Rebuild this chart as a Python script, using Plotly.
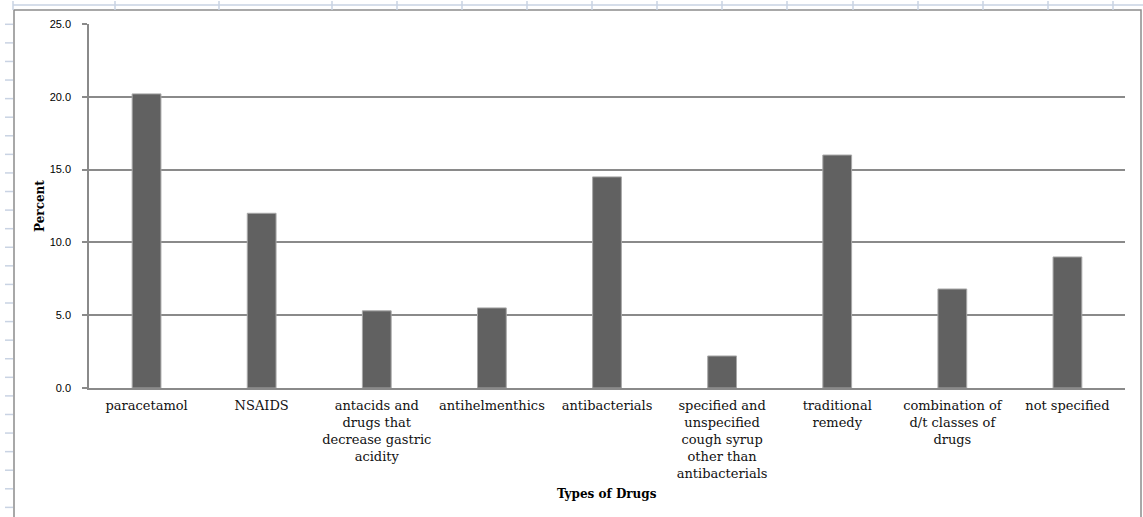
import plotly.graph_objects as go

categories = [
    "paracetamol",
    "NSAIDS",
    "antacids and<br>drugs that<br>decrease gastric<br>acidity",
    "antihelmenthics",
    "antibacterials",
    "specified and<br>unspecified<br>cough syrup<br>other than<br>antibacterials",
    "traditional<br>remedy",
    "combination of<br>d/t classes of<br>drugs",
    "not specified",
]
percent = [20.2, 12.0, 5.3, 5.5, 14.5, 2.2, 16.0, 6.8, 9.0]
y_ticks = [0, 5, 10, 15, 20, 25]
y_tick_labels = ["0.0", "5.0", "10.0", "15.0", "20.0", "25.0"]

W, H = 1143, 517
L, R, T, B = 89, 18, 24, 129
PW, PH = W - L - R, H - T - B


def px(x):
    return (x - L) / PW


def py(y):
    return (H - B - y) / PH


fig = go.Figure(
    go.Bar(
        x=categories,
        y=percent,
        marker=dict(color="#616161", line=dict(color="#a8a8a8", width=1)),
        width=0.25,
        hoverinfo="x+y",
    )
)

shapes = []
sheet = "#c9d3e3"
# spreadsheet remnants (decoration)
shapes.append(dict(type="line", xref="paper", yref="paper", x0=px(13), x1=px(1143), y0=py(5), y1=py(5),
                   line=dict(color=sheet, width=1.5)))
for xv in [13, 115, 219, 332, 397, 462, 527, 592, 657, 722, 787, 853, 918, 983, 1048, 1113]:
    shapes.append(dict(type="line", xref="paper", yref="paper", x0=px(xv), x1=px(xv), y0=py(1), y1=py(10),
                       line=dict(color=sheet, width=1.5)))
for k in range(27):
    yv = 24.3 + 18.58 * k
    shapes.append(dict(type="line", xref="paper", yref="paper", x0=px(5), x1=px(13), y0=py(yv), y1=py(yv),
                       line=dict(color=sheet, width=1.5)))
# chart border
shapes.append(dict(type="rect", xref="paper", yref="paper", x0=px(14), x1=px(1141), y0=py(10), y1=py(530),
                   line=dict(color="#8c8c8c", width=1.5), fillcolor="rgba(0,0,0,0)", layer="below"))

fig.update_layout(
    width=W, height=H, autosize=False,
    margin=dict(l=L, r=R, t=T, b=B, pad=0),
    paper_bgcolor="white", plot_bgcolor="white",
    showlegend=False,
    shapes=shapes,
    bargap=0.75,
    xaxis=dict(
        type="category",
        showline=True, linecolor="#8a8a8a", linewidth=1.5,
        showgrid=False, ticks="", tickangle=0,
        tickfont=dict(family="DejaVu Serif", size=13, color="#111111"),
        ticklabelstandoff=5,
        automargin=False,
    ),
    yaxis=dict(
        range=[0, 25], tickvals=y_ticks, ticktext=y_tick_labels,
        showline=True, linecolor="#8a8a8a", linewidth=1.5,
        showgrid=True, gridcolor="#8a8a8a", gridwidth=1.5,
        ticks="outside", ticklen=5, tickcolor="#8a8a8a", tickwidth=1.5,
        tickfont=dict(family="Liberation Sans", size=11, color="#000000"),
        ticklabelstandoff=9,
        zeroline=False, automargin=False,
    ),
    annotations=[
        dict(text="<b>Percent</b>", xref="paper", yref="paper", x=px(40), y=py(206),
             textangle=-90, showarrow=False, xanchor="center", yanchor="middle",
             font=dict(family="DejaVu Serif", size=12, color="#000000")),
        dict(text="<b>Types of Drugs</b>", xref="paper", yref="paper", x=px(607), y=py(494),
             showarrow=False, xanchor="center", yanchor="middle",
             font=dict(family="DejaVu Serif", size=12, color="#000000")),
    ],
)

fig.write_html(
    "out.html",
    config={"displayModeBar": False},
    post_script="document.body.style.margin='0';document.body.style.overflow='hidden';",
)
